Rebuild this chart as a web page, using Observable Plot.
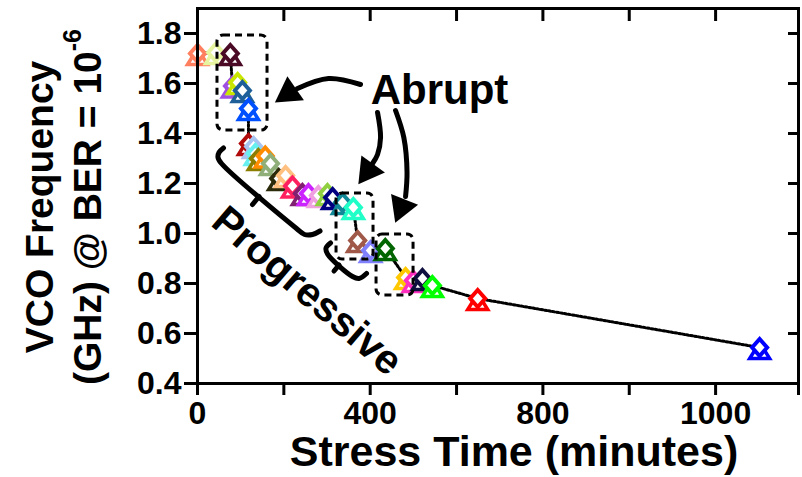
<!DOCTYPE html>
<html><head><meta charset="utf-8">
<script src="https://cdn.jsdelivr.net/npm/d3@7"></script>
<script src="https://cdn.jsdelivr.net/npm/@observablehq/plot@0.6"></script>
<style>
html,body{margin:0;padding:0;background:#fff;}
#chart{width:802px;height:477px;overflow:hidden;}
</style></head><body><div id="chart"></div>
<script>
// ---- data ----
const stressTime = [0,42,76,81,93,104,118, 118,130,134,141,157,169,188,204,220,243,257,280,301,313,336,361, 371,401,435, 482,500,521,544, 649,1302];
const vcoFreq   = [1.72,1.724,1.72,1.59,1.604,1.572,1.50, 1.36,1.348,1.32,1.30,1.31,1.28,1.22,1.232,1.19,1.16,1.16,1.152,1.16,1.144,1.124,1.104, 0.972,0.932,0.94, 0.824,0.812,0.82,0.792, 0.74,0.544];
const pointColors = ["#ff7f5f","#e8f5a0","#4a0a26","#a050e0","#c8e600","#1f5f99","#0050ff",
  "#b00a0a","#a8c4f0","#66f0f0","#8b7d00","#ff8c00","#8fae78","#2b2b0c","#ffc080","#ff2060","#802070","#cc22ff","#f0a0e0","#90d040","#000080","#108898","#20ffc8",
  "#a05848","#8080ff","#006400",
  "#ffc800","#ff30c0","#101040","#00ff00",
  "#ff0000","#0000ff"];

const xTickValues = [0,200,400,600,800,1000,1200,1392];
const xLabelValues = [0,400,800,1200];
const xLabelText = ["0","400","800","1000"];
const yTickValues = [0.4,0.6,0.8,1.0,1.2,1.4,1.6,1.8];
const xTopTicks = [200,400,600,800,1000,1200];

// annotations (data units)
const boxT1 = [46.3,322,414.7], boxT2 = [162.2,407.7,500.4];
const boxF1 = [1.412,0.896,0.752], boxF2 = [1.792,1.16,0.996];
const arrowShafts = [
  [[377.6,1.596],[303.5,1.62],[231.7,1.58]],
  [[417,1.484],[424,1.384],[417,1.316],[405.4,1.28]],
  [[458.7,1.492],[477.9,1.384],[485.3,1.244],[481.9,1.148]]
];
const headT = [211.3,395.4,472.4], headF = [1.562,1.251,1.105], headAngle = [235.4,216,201.8];
const brackets = [
  [[60.2,1.342],[49.8,1.324],[47.5,1.304],[55.6,1.28],[229.3,1.02],[247.9,0.996],[266.4,0.996],[283.8,1.01]],
  [[142.5,1.148],[127.4,1.116]],
  [[308.1,0.962],[297.7,0.942],[301.2,0.918],[359.1,0.828],[374.1,0.82],[391.5,0.84]],
  [[327.8,0.874],[316.2,0.85]]
];
const labelAbrupt = {t:560.6, f:1.572, text:"Abrupt"};
const labelProg = {t:254, f:0.77, text:"Progressive", angle:40.5};

// ---- build tables ----
const points = stressTime.map((t,i)=>({t, f:vcoFreq[i], c:pointColors[i]}));
const boxes = boxT1.map((t1,i)=>({t1, t2:boxT2[i], f1:boxF1[i], f2:boxF2[i]}));
const shaftRows = arrowShafts.flatMap((s,k)=>s.map(([t,f])=>({t,f,k})));
const heads = headT.map((t,i)=>({t, f:headF[i], a:headAngle[i]}));
const bracketRows = brackets.flatMap((s,k)=>s.map(([t,f])=>({t,f,k})));

const triSym = {draw(c){ c.moveTo(0,-5); c.lineTo(10,11); c.lineTo(-10,11); c.closePath(); }};
const diaSym = {draw(c){ c.moveTo(0,-8.5); c.lineTo(7.5,0); c.lineTo(0,8.5); c.lineTo(-7.5,0); c.closePath(); }};

const markerMarks = points.flatMap(p => [
  Plot.dot([p], {x:"t", y:"f", symbol: triSym, stroke: p.c, fill:"white", strokeWidth: 3.5}),
  Plot.dot([p], {x:"t", y:"f", symbol: diaSym, stroke: p.c, fill:"white", strokeWidth: 4})
]);

const fmtX = d => { const i = xLabelValues.indexOf(d); return i >= 0 ? xLabelText[i] : ""; };

const svg = Plot.plot({
  width: 802, height: 477,
  marginLeft: 197, marginRight: 4, marginTop: 8, marginBottom: 94,
  x: {domain: [0, 1392]},
  y: {domain: [0.4, 1.9]},
  style: {fontFamily: "'Liberation Sans', Arial, sans-serif", fontWeight: "bold", background: "white", overflow: "visible", color: "black"},
  marks: [
    Plot.line(points, {x:"t", y:"f", stroke:"black", strokeWidth:3, strokeDasharray:"2,2"}),
    ...markerMarks,
    Plot.rect(boxes, {x1:"t1", x2:"t2", y1:"f1", y2:"f2", fill:"none", stroke:"black", strokeWidth:3, strokeDasharray:"7,5", rx:6}),
    Plot.line(shaftRows, {x:"t", y:"f", z:"k", curve:"catmull-rom", stroke:"black", strokeWidth:5}),
    Plot.dot(heads, {x:"t", y:"f", rotate:"a", symbol:"triangle", r:10.8, fill:"black", stroke:"none"}),
    Plot.line(bracketRows, {x:"t", y:"f", z:"k", curve:"catmull-rom", stroke:"black", strokeWidth:5, strokeLinecap:"round", strokeLinejoin:"round"}),
    Plot.text([labelAbrupt], {x:"t", y:"f", text:"text", fontSize:42, fontWeight:"bold", fill:"black"}),
    Plot.text([labelProg], {x:"t", y:"f", text:"text", rotate:labelProg.angle, fontSize:41, fontWeight:"bold", fill:"black"}),
    Plot.frame({stroke:"black", strokeWidth:3}),
    Plot.axisX({anchor:"bottom", ticks:xTickValues, tickSize:12, tickPadding:6, tickFormat:fmtX, fontSize:32, strokeWidth:3, label:null}),
    Plot.axisX({anchor:"top", ticks:xTopTicks, tickSize:-12, tickFormat:()=>"", strokeWidth:3, label:null}),
    Plot.axisY({anchor:"left", ticks:yTickValues, tickSize:13, tickPadding:3, tickFormat:d3.format(".1f"), fontSize:32, strokeWidth:3, label:null}),
    Plot.axisY({anchor:"right", ticks:yTickValues, tickSize:-11, tickFormat:()=>"", strokeWidth:3, label:null})
  ]
});

const s = d3.select(svg);
s.append("text").attr("transform","translate(53,207) rotate(-90)").attr("text-anchor","middle")
  .attr("font-size",39).attr("font-weight","bold").attr("fill","black").text("VCO Frequency");
const t2 = s.append("text").attr("transform","translate(101,207) rotate(-90)").attr("text-anchor","middle")
  .attr("font-size",39).attr("font-weight","bold").attr("fill","black");
t2.append("tspan").text("(GHz) @ BER = 10");
t2.append("tspan").attr("font-size",25).attr("dy",-20).text("-6");
s.append("text").attr("x",514).attr("y",466).attr("text-anchor","middle")
  .attr("font-size",43).attr("font-weight","bold").attr("fill","black").text("Stress Time (minutes)");
s.append("text").attr("x",-11).attr("y",424).attr("font-size",32).attr("font-weight","bold").attr("fill","black").text("B");

document.getElementById("chart").appendChild(svg);
</script>
</body></html>
